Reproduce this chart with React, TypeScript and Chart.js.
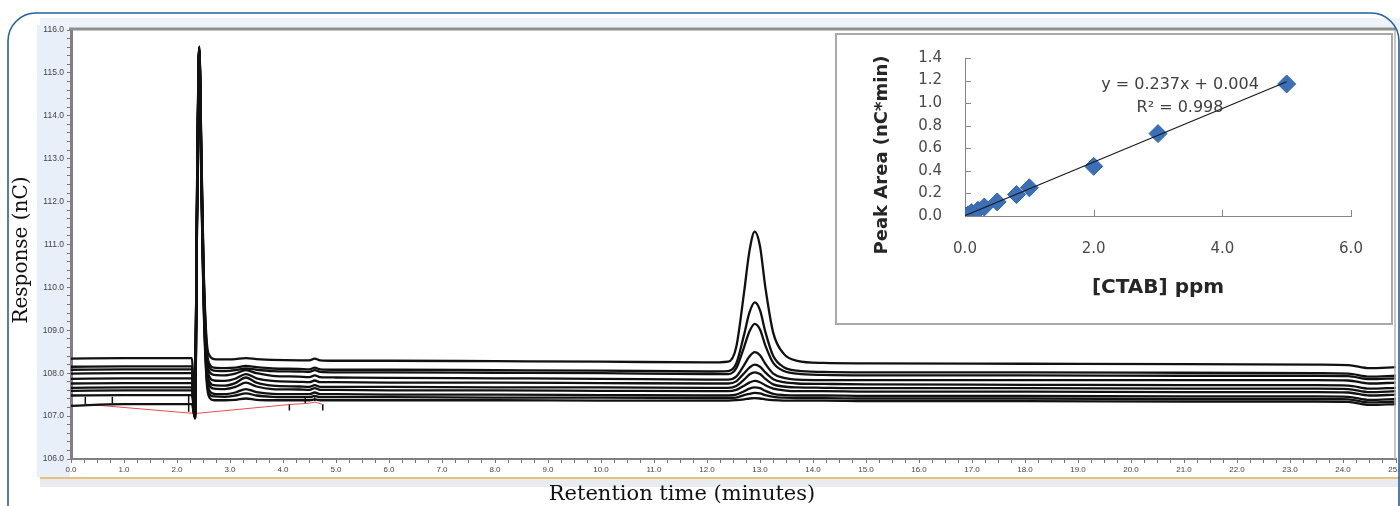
import React, { useEffect, useRef } from "react";
import { Chart, registerables } from "chart.js";

Chart.register(...registerables);

// ---------- Chromatogram data ----------
const retentionTimes = [
  0, 1.0, 2.0, 2.28, 2.34, 2.38, 2.42, 2.46, 2.5, 2.56, 2.62, 2.7, 2.9, 3.1, 3.3, 3.5,
  3.8, 4.3, 4.5, 4.6, 4.7, 5.0, 6.0, 8.0, 10.0, 12.0, 12.4, 12.55, 12.7, 12.8, 12.9, 13.0,
  13.1, 13.25, 13.45, 13.7, 14.2, 15.0, 18.0, 21.0, 23.5, 24.1, 24.5, 25.0,
];

const trace1 = [
  108.34, 108.35, 108.35, 108.35, 107.0, 112.6, 115.62, 113.2, 110.6, 108.75, 108.4, 108.33,
  108.32, 108.33, 108.35, 108.33, 108.31, 108.3, 108.3, 108.34, 108.3, 108.29, 108.29, 108.28,
  108.27, 108.25, 108.27, 108.6, 109.89, 110.84, 111.3, 110.96, 110.01, 108.94, 108.45, 108.29,
  108.24, 108.23, 108.22, 108.21, 108.2, 108.19, 108.12, 108.14,
];
const trace2 = [
  108.15, 108.16, 108.16, 108.16, 106.99, 112.5, 115.6, 113.1, 110.5, 108.6, 108.2, 108.13,
  108.12, 108.13, 108.17, 108.14, 108.11, 108.1, 108.09, 108.13, 108.09, 108.08, 108.08, 108.07,
  108.06, 108.04, 108.05, 108.22, 108.9, 109.41, 109.65, 109.47, 108.97, 108.4, 108.14, 108.06,
  108.03, 108.02, 108.02, 108.01, 108.0, 107.99, 107.92, 107.94,
];
const trace3 = [
  108.08, 108.09, 108.09, 108.09, 106.98, 112.4, 115.58, 113.0, 110.4, 108.5, 108.12, 108.06,
  108.05, 108.07, 108.11, 108.08, 108.05, 108.04, 108.03, 108.07, 108.03, 108.02, 108.02, 108.01,
  108.0, 107.98, 107.98, 108.11, 108.61, 108.97, 109.15, 109.02, 108.65, 108.24, 108.05, 107.99,
  107.96, 107.95, 107.95, 107.94, 107.94, 107.93, 107.86, 107.88,
];
const trace4 = [
  107.99, 108.0, 108.0, 108.0, 106.98, 112.3, 115.56, 112.9, 110.3, 108.4, 108.02, 107.96,
  107.95, 107.99, 108.07, 108.0, 107.94, 107.92, 107.91, 107.95, 107.91, 107.9, 107.89, 107.88,
  107.87, 107.85, 107.85, 107.92, 108.19, 108.39, 108.49, 108.42, 108.22, 107.99, 107.89, 107.85,
  107.84, 107.84, 107.84, 107.84, 107.84, 107.83, 107.76, 107.78,
];
const trace5 = [
  107.87, 107.88, 107.88, 107.88, 106.97, 112.2, 115.55, 112.8, 110.2, 108.3, 107.9, 107.83,
  107.82, 107.87, 107.98, 107.88, 107.82, 107.8, 107.79, 107.83, 107.79, 107.79, 107.78, 107.78,
  107.77, 107.76, 107.76, 107.81, 108.0, 108.13, 108.2, 108.15, 108.02, 107.86, 107.79, 107.76,
  107.75, 107.74, 107.73, 107.72, 107.72, 107.71, 107.64, 107.66,
];
const trace6 = [
  107.76, 107.77, 107.77, 107.77, 106.97, 112.1, 115.54, 112.7, 110.1, 108.2, 107.79, 107.72,
  107.71, 107.77, 107.9, 107.78, 107.71, 107.69, 107.68, 107.72, 107.68, 107.68, 107.68, 107.67,
  107.67, 107.66, 107.66, 107.7, 107.85, 107.97, 108.02, 107.98, 107.87, 107.74, 107.69, 107.67,
  107.66, 107.65, 107.65, 107.64, 107.64, 107.63, 107.56, 107.58,
];
const trace7 = [
  107.66, 107.67, 107.67, 107.67, 106.96, 112.0, 115.53, 112.6, 110.0, 108.1, 107.7, 107.64,
  107.63, 107.68, 107.78, 107.69, 107.63, 107.62, 107.61, 107.65, 107.61, 107.61, 107.6, 107.6,
  107.59, 107.58, 107.58, 107.61, 107.71, 107.78, 107.82, 107.79, 107.72, 107.64, 107.6, 107.58,
  107.58, 107.57, 107.57, 107.56, 107.56, 107.55, 107.48, 107.5,
];
const trace8 = [
  107.59, 107.6, 107.6, 107.6, 106.96, 111.9, 115.52, 112.5, 109.9, 108.0, 107.58, 107.52,
  107.51, 107.55, 107.63, 107.56, 107.52, 107.51, 107.51, 107.55, 107.51, 107.51, 107.5, 107.5,
  107.49, 107.48, 107.48, 107.5, 107.58, 107.64, 107.67, 107.65, 107.59, 107.52, 107.49, 107.48,
  107.48, 107.47, 107.47, 107.46, 107.46, 107.45, 107.38, 107.4,
];
const trace9 = [
  107.48, 107.49, 107.49, 107.49, 106.95, 111.8, 115.5, 112.4, 109.8, 107.9, 107.5, 107.46,
  107.45, 107.48, 107.53, 107.48, 107.45, 107.44, 107.44, 107.47, 107.44, 107.44, 107.44, 107.43,
  107.43, 107.42, 107.42, 107.43, 107.49, 107.52, 107.54, 107.53, 107.49, 107.45, 107.43, 107.42,
  107.42, 107.41, 107.41, 107.4, 107.4, 107.39, 107.32, 107.34,
];
const trace10 = [
  107.24, 107.28, 107.28, 107.28, 106.94, 111.7, 115.48, 112.3, 109.7, 107.8, 107.42, 107.37,
  107.37, 107.38, 107.41, 107.38, 107.37, 107.37, 107.37, 107.39, 107.37, 107.37, 107.37, 107.37,
  107.36, 107.36, 107.36, 107.37, 107.39, 107.41, 107.42, 107.41, 107.39, 107.37, 107.36, 107.36,
  107.36, 107.35, 107.35, 107.34, 107.34, 107.33, 107.26, 107.28,
];
const traces = [trace1, trace2, trace3, trace4, trace5, trace6, trace7, trace8, trace9, trace10];

// integration baseline (red) and peak markers
const baselineX = [0.25, 2.34, 4.12, 4.5, 4.6, 4.75];
const baselineY = [107.28, 107.06, 107.27, 107.3, 107.33, 107.27];
const markerX = [0.27, 0.78, 2.22, 2.3, 4.12, 4.42, 4.6, 4.75];
const markerTop = [107.45, 107.45, 107.5, 107.5, 107.28, 107.43, 107.44, 107.28];
const markerBottom = [107.27, 107.29, 107.1, 107.08, 107.13, 107.3, 107.35, 107.13];

// ---------- Calibration inset data ----------
const ctabPpm = [0, 0.05, 0.1, 0.2, 0.3, 0.5, 0.8, 1.0, 2.0, 3.0, 5.0];
const peakArea = [0.0, 0.01, 0.03, 0.05, 0.08, 0.125, 0.19, 0.25, 0.44, 0.73, 1.17];
const fitX = [0, 5.0];
const fitY = [0.004, 1.189];

const isWhole = (v: number) => Math.abs(v - Math.round(v)) < 1e-6;

const mainDecor = {
  id: "mainDecor",
  beforeDraw(chart: any) {
    const ctx = chart.ctx;
    ctx.save();
    ctx.fillStyle = "#ffffff";
    ctx.fillRect(0, 0, chart.width, chart.height);
    ctx.fillStyle = "#e8eff9";
    ctx.fillRect(37, 25, 33, 452);
    ctx.fillStyle = "#eef3fa";
    ctx.fillRect(40, 18, 1380, 11);
    ctx.fillStyle = "#e8ecf1";
    ctx.fillRect(40, 479, 1380, 8);
    ctx.strokeStyle = "#e6c07c";
    ctx.lineWidth = 2;
    ctx.beginPath();
    ctx.moveTo(40, 478);
    ctx.lineTo(1420, 478);
    ctx.stroke();
    ctx.restore();
  },
  afterDraw(chart: any) {
    const ctx = chart.ctx;
    const a = chart.chartArea;
    ctx.save();
    ctx.strokeStyle = "#8f8f8f";
    ctx.lineWidth = 3;
    ctx.beginPath();
    ctx.moveTo(a.left - 2, a.top - 1);
    ctx.lineTo(a.right, a.top - 1);
    ctx.stroke();
    ctx.strokeStyle = "#b5b5b5";
    ctx.lineWidth = 1.5;
    ctx.beginPath();
    ctx.moveTo(a.right - 1, a.top);
    ctx.lineTo(a.right - 1, a.bottom);
    ctx.stroke();

    // rounded blue frame
    const r = 28;
    ctx.strokeStyle = "#2262a0";
    ctx.lineWidth = 1.6;
    ctx.beginPath();
    ctx.moveTo(8, 520);
    ctx.lineTo(8, 13 + r);
    ctx.arcTo(8, 13, 8 + r, 13, r);
    ctx.lineTo(1399 - r, 13);
    ctx.arcTo(1399, 13, 1399, 13 + r, r);
    ctx.lineTo(1399, 520);
    ctx.stroke();

    // axis titles
    ctx.fillStyle = "#111111";
    ctx.textAlign = "center";
    ctx.textBaseline = "middle";
    ctx.font = '21px "DejaVu Serif"';
    ctx.fillText("Retention time (minutes)", 682, 495);
    ctx.translate(22, 250);
    ctx.rotate(-Math.PI / 2);
    ctx.font = '20px "DejaVu Serif"';
    ctx.fillText("Response (nC)", 0, 0);
    ctx.restore();
  },
};

const insetDecor = {
  id: "insetDecor",
  beforeDraw(chart: any) {
    const ctx = chart.ctx;
    ctx.save();
    ctx.fillStyle = "#ffffff";
    ctx.fillRect(0, 0, chart.width, chart.height);
    ctx.restore();
  },
  afterDraw(chart: any) {
    const ctx = chart.ctx;
    const xs = chart.scales.x;
    const ys = chart.scales.y;
    ctx.save();
    ctx.strokeStyle = "#868686";
    ctx.lineWidth = 1;
    ys.ticks.forEach((t: any) => {
      if (t.value === 0) return;
      const y = Math.round(ys.getPixelForValue(t.value)) + 0.5;
      ctx.beginPath();
      ctx.moveTo(xs.left, y);
      ctx.lineTo(xs.left + 6, y);
      ctx.stroke();
    });
    xs.ticks.forEach((t: any) => {
      if (t.value === 0) return;
      const x = Math.round(xs.getPixelForValue(t.value)) + 0.5;
      ctx.beginPath();
      ctx.moveTo(x, ys.bottom);
      ctx.lineTo(x, ys.bottom - 6);
      ctx.stroke();
    });

    ctx.fillStyle = "#262626";
    ctx.textAlign = "center";
    ctx.textBaseline = "middle";
    ctx.font = 'bold 20px "DejaVu Sans"';
    ctx.fillText("[CTAB] ppm", 321, 253);
    ctx.fillStyle = "#404040";
    ctx.font = '16px "DejaVu Sans"';
    ctx.fillText("y = 0.237x + 0.004", 343, 50);
    ctx.fillText("R² = 0.998", 343, 73);
    ctx.translate(45, 120);
    ctx.rotate(-Math.PI / 2);
    ctx.fillStyle = "#262626";
    ctx.font = 'bold 18px "DejaVu Sans"';
    ctx.fillText("Peak Area (nC*min)", 0, 0);
    ctx.restore();
  },
};

export default function App() {
  const mainRef = useRef<HTMLCanvasElement>(null);
  const insetRef = useRef<HTMLCanvasElement>(null);

  useEffect(() => {
    if (!mainRef.current || !insetRef.current) return;

    const traceSets = traces.map((t) => ({
      data: retentionTimes.map((x, i) => ({ x, y: t[i] })),
      borderColor: "#111111",
      borderWidth: 2.3,
      pointRadius: 0,
      cubicInterpolationMode: "monotone" as const,
      fill: false,
    }));

    const markerData: any[] = [];
    markerX.forEach((x, i) => {
      markerData.push({ x, y: markerTop[i] });
      markerData.push({ x, y: markerBottom[i] });
      markerData.push({ x, y: null });
    });

    const main = new Chart(mainRef.current, {
      type: "line",
      data: {
        datasets: [
          ...traceSets,
          {
            data: baselineX.map((x, i) => ({ x, y: baselineY[i] })),
            borderColor: "#e0524f",
            borderWidth: 1,
            pointRadius: 0,
            tension: 0,
            fill: false,
          },
          {
            data: markerData,
            borderColor: "#111111",
            borderWidth: 1.5,
            pointRadius: 0,
            tension: 0,
            spanGaps: false,
            fill: false,
          },
        ] as any,
      },
      options: {
        responsive: false,
        animation: false,
        layout: { padding: { left: 0, top: 30, right: 24, bottom: 0 } },
        plugins: { legend: { display: false }, tooltip: { enabled: false } },
        scales: {
          x: {
            type: "linear",
            min: 0,
            max: 25,
            afterFit: (s: any) => {
              s.height = 47;
            },
            ticks: {
              stepSize: 0.25,
              maxTicksLimit: 1000,
              autoSkip: false,
              maxRotation: 0,
              minRotation: 0,
              padding: 2,
              color: "#444444",
              font: { family: "Liberation Sans", size: 8 },
              callback: (v: any) => (isWhole(Number(v)) ? Number(v).toFixed(1) : ""),
            },
            grid: { drawOnChartArea: false, drawTicks: true, tickLength: 4, color: "#777777" },
            border: { color: "#808080", width: 2 },
          },
          y: {
            type: "linear",
            min: 106,
            max: 116,
            afterFit: (s: any) => {
              s.width = 71;
            },
            ticks: {
              stepSize: 0.2,
              maxTicksLimit: 1000,
              autoSkip: false,
              padding: 3,
              color: "#444444",
              font: { family: "Liberation Sans", size: 8.5 },
              callback: (v: any) => (isWhole(Number(v)) ? Number(v).toFixed(1) : ""),
            },
            grid: { drawOnChartArea: false, drawTicks: true, tickLength: 4, color: "#777777" },
            border: { color: "#808080", width: 3 },
          },
        },
      },
      plugins: [mainDecor],
    });

    const inset = new Chart(insetRef.current, {
      type: "scatter",
      data: {
        datasets: [
          {
            data: fitX.map((x, i) => ({ x, y: fitY[i] })),
            showLine: true,
            borderColor: "#1a1a1a",
            borderWidth: 1.2,
            pointRadius: 0,
            order: 0,
          },
          {
            data: ctabPpm.map((x, i) => ({ x, y: peakArea[i] })),
            pointStyle: "rectRot",
            pointRadius: 9,
            backgroundColor: "#3b70b8",
            borderColor: "#3466ad",
            borderWidth: 1,
            order: 1,
          },
        ] as any,
      },
      options: {
        responsive: false,
        animation: false,
        layout: { padding: { left: 0, top: 23, right: 40, bottom: 0 } },
        plugins: { legend: { display: false }, tooltip: { enabled: false } },
        scales: {
          x: {
            type: "linear",
            min: 0,
            max: 6,
            afterFit: (s: any) => {
              s.height = 107;
            },
            ticks: {
              stepSize: 2,
              padding: 0,
              maxRotation: 0,
              color: "#4a4a4a",
              font: { family: "DejaVu Sans", size: 15 },
              callback: (v: any) => Number(v).toFixed(1),
            },
            grid: {
              display: true,
              drawOnChartArea: false,
              drawTicks: true,
              tickLength: 24,
              color: "rgba(0,0,0,0)",
            },
            border: { color: "#868686", width: 1 },
          },
          y: {
            type: "linear",
            min: 0,
            max: 1.4,
            afterFit: (s: any) => {
              s.width = 128;
            },
            ticks: {
              stepSize: 0.2,
              padding: 0,
              color: "#4a4a4a",
              font: { family: "DejaVu Sans", size: 15 },
              callback: (v: any) => Number(v).toFixed(1),
            },
            grid: {
              display: true,
              drawOnChartArea: false,
              drawTicks: true,
              tickLength: 23,
              color: "rgba(0,0,0,0)",
            },
            border: { color: "#868686", width: 1 },
          },
        },
      },
      plugins: [insetDecor],
    });

    return () => {
      main.destroy();
      inset.destroy();
    };
  }, []);

  return (
    <div
      style={{
        position: "fixed",
        left: 0,
        top: 0,
        width: 1400,
        height: 506,
        overflow: "hidden",
        background: "#ffffff",
      }}
    >
      <canvas
        ref={mainRef}
        width={1420}
        height={506}
        style={{ position: "absolute", left: 0, top: 0, width: 1420, height: 506 }}
      />
      <div
        style={{
          position: "absolute",
          left: 835,
          top: 33,
          width: 558,
          height: 292,
          border: "2px solid #a9a9a9",
          boxSizing: "border-box",
          background: "#ffffff",
        }}
      >
        <canvas
          ref={insetRef}
          width={554}
          height={288}
          style={{ display: "block", width: 554, height: 288 }}
        />
      </div>
    </div>
  );
}
